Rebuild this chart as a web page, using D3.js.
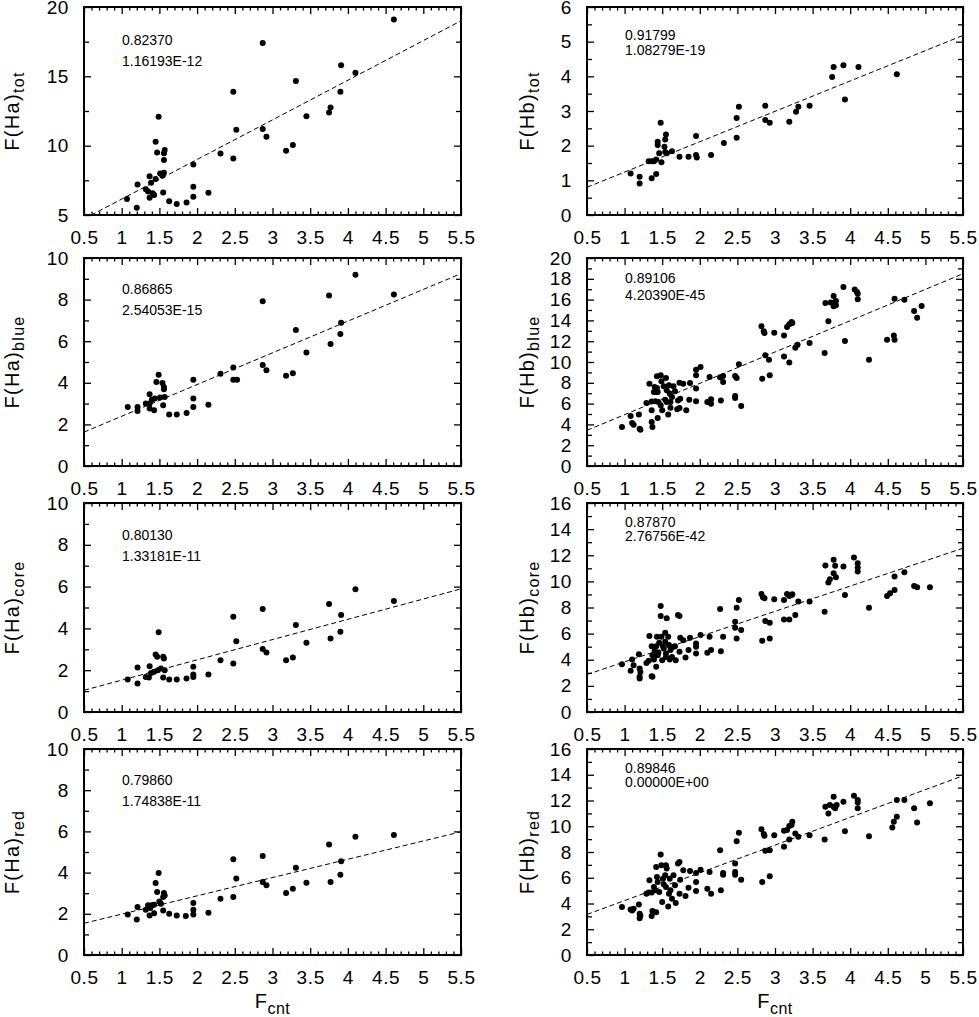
<!DOCTYPE html>
<html>
<head>
<meta charset="utf-8">
<script src="https://cdnjs.cloudflare.com/ajax/libs/d3/7.8.5/d3.min.js"></script>
<style>
  html, body { margin: 0; padding: 0; background: #fff; }
  svg { display: block; font-family: "Liberation Sans", Arial, Helvetica, sans-serif; }
</style>
</head>
<body>
<svg id="chart" width="979" height="1017"></svg>
<script>
// ---------------- DATA ----------------
const xDomain = [0.5, 5.5];
const xTickLabels = ["0.5", "1", "1.5", "2", "2.5", "3", "3.5", "4", "4.5", "5", "5.5"];

const haTot = [[1.07,6.15],[1.21,7.2],[1.20,5.53],[1.37,7.8],[1.35,6.7],[1.32,6.85],[1.37,6.25],[1.39,7.33],[1.41,6.56],[1.43,6.44],[1.45,7.6],[1.45,10.28],[1.47,9.5],[1.49,12.08],[1.51,8.0],[1.54,7.83],[1.56,9.46],[1.57,9.68],[1.56,8.96],[1.56,8.05],[1.55,6.63],[1.63,6.0],[1.73,5.8],[1.86,5.9],[1.95,8.65],[1.95,7.04],[1.95,6.32],[2.15,6.6],[2.31,9.44],[2.48,9.08],[2.48,13.88],[2.52,11.14],[2.87,17.4],[2.87,11.2],[2.92,10.64],[3.18,9.63],[3.27,10.04],[3.31,14.67],[3.45,12.13],[3.75,12.4],[3.77,12.75],[3.90,13.88],[3.91,15.8],[4.10,15.25],[4.61,19.1]];

const hbTot = [[1.08,1.2],[1.20,1.10],[1.20,0.91],[1.32,1.55],[1.36,1.55],[1.39,1.55],[1.36,1.06],[1.42,1.60],[1.42,1.18],[1.44,2.11],[1.44,2.02],[1.46,1.78],[1.48,2.66],[1.49,1.52],[1.53,1.97],[1.54,2.18],[1.55,2.32],[1.54,1.82],[1.56,1.78],[1.63,1.84],[1.73,1.68],[1.85,1.68],[1.95,2.28],[1.95,1.73],[1.96,1.66],[2.15,1.73],[2.32,2.08],[2.49,2.23],[2.49,2.80],[2.52,3.12],[2.87,3.15],[2.87,2.74],[2.93,2.66],[3.19,2.69],[3.28,2.98],[3.31,3.12],[3.46,3.15],[3.76,3.98],[3.78,4.27],[3.91,4.32],[3.93,3.33],[4.11,4.27],[4.62,4.06]];

const haBlue = [[1.08,2.84],[1.21,2.64],[1.21,2.84],[1.32,3.0],[1.37,3.45],[1.37,3.0],[1.37,2.76],[1.40,3.19],[1.43,2.68],[1.44,3.24],[1.46,4.04],[1.49,4.39],[1.51,3.29],[1.54,3.99],[1.56,3.80],[1.56,3.69],[1.55,2.92],[1.57,3.32],[1.63,2.48],[1.73,2.48],[1.86,2.55],[1.95,4.15],[1.95,3.24],[1.95,2.84],[2.15,2.95],[2.31,4.44],[2.48,4.73],[2.48,4.15],[2.53,4.15],[2.87,7.92],[2.87,4.86],[2.92,4.6],[3.18,4.34],[3.27,4.46],[3.31,6.54],[3.45,5.46],[3.75,8.2],[3.77,5.87],[3.90,6.35],[3.91,6.89],[4.10,9.2],[4.61,8.25]];

const hbBlue = [[0.965,3.75],[1.08,4.81],[1.10,4.13],[1.12,3.97],[1.19,4.94],[1.20,3.59],[1.21,3.49],[1.29,6.06],[1.33,7.92],[1.36,6.19],[1.36,5.35],[1.36,4.23],[1.37,3.75],[1.39,7.12],[1.40,7.60],[1.41,6.22],[1.41,7.12],[1.43,8.62],[1.43,7.5],[1.44,7.12],[1.44,4.62],[1.45,6.15],[1.48,5.83],[1.48,8.72],[1.49,8.14],[1.50,5.35],[1.52,7.66],[1.54,6.38],[1.55,8.46],[1.56,7.28],[1.56,6.15],[1.58,4.94],[1.59,7.76],[1.60,6.96],[1.61,6.15],[1.61,5.61],[1.63,6.63],[1.65,7.66],[1.67,7.18],[1.70,5.45],[1.71,6.31],[1.73,8.01],[1.73,5.58],[1.74,6.47],[1.78,7.92],[1.82,5.35],[1.87,7.98],[1.86,6.38],[1.95,9.26],[1.95,8.72],[1.95,7.44],[1.95,6.22],[2.01,9.52],[2.10,6.15],[2.13,8.56],[2.15,5.99],[2.15,6.41],[2.27,8.53],[2.28,6.31],[2.31,8.65],[2.31,8.08],[2.47,8.65],[2.49,8.46],[2.47,6.73],[2.47,6.54],[2.52,9.78],[2.55,5.77],[2.82,13.43],[2.85,12.95],[2.86,12.79],[2.83,8.40],[2.87,10.64],[2.92,10.22],[2.93,8.72],[2.99,12.82],[3.12,12.56],[3.12,10.54],[3.16,13.37],[3.19,13.62],[3.19,9.94],[3.22,13.85],[3.23,13.75],[3.27,11.38],[3.30,11.67],[3.46,11.83],[3.66,10.87],[3.67,15.67],[3.71,13.91],[3.74,15.71],[3.78,16.35],[3.79,15.71],[3.78,15.35],[3.81,15.45],[3.81,15.87],[3.91,17.21],[3.93,12.02],[4.06,16.96],[4.09,16.73],[4.10,16.57],[4.10,16.03],[4.25,10.22],[4.49,12.15],[4.58,12.56],[4.59,12.15],[4.59,16.09],[4.72,15.99],[4.85,14.90],[4.89,14.26],[4.95,15.38]];

const haCore = [[1.08,1.55],[1.21,1.36],[1.21,2.13],[1.32,1.68],[1.36,1.65],[1.37,2.19],[1.39,1.87],[1.43,1.92],[1.45,2.75],[1.47,2.64],[1.48,2.0],[1.49,3.81],[1.52,2.08],[1.55,2.64],[1.56,2.56],[1.57,2.0],[1.55,1.65],[1.63,1.55],[1.73,1.55],[1.86,1.60],[1.95,2.16],[1.95,1.79],[1.95,1.68],[2.15,1.79],[2.31,2.48],[2.48,4.56],[2.48,2.32],[2.52,3.39],[2.87,4.93],[2.87,3.01],[2.92,2.85],[3.18,2.48],[3.27,2.61],[3.31,4.16],[3.45,3.31],[3.75,5.17],[3.77,3.52],[3.90,3.84],[3.91,4.64],[4.10,5.87],[4.61,5.31]];

const hbCore = [[0.965,3.66],[1.08,3.15],[1.10,4.02],[1.12,3.58],[1.19,4.43],[1.20,3.33],[1.20,2.69],[1.21,3.07],[1.20,2.56],[1.29,3.76],[1.32,3.92],[1.33,5.81],[1.36,5.04],[1.36,2.74],[1.37,2.69],[1.37,4.35],[1.39,4.02],[1.40,4.69],[1.42,3.46],[1.42,5.04],[1.43,5.76],[1.44,4.35],[1.45,4.56],[1.46,5.30],[1.48,8.12],[1.48,7.35],[1.49,5.76],[1.50,3.97],[1.51,5.04],[1.52,4.86],[1.54,6.07],[1.54,5.38],[1.55,4.48],[1.55,4.22],[1.56,7.17],[1.58,5.76],[1.59,5.12],[1.60,4.02],[1.61,4.74],[1.63,4.22],[1.65,4.99],[1.67,5.04],[1.68,3.97],[1.71,7.42],[1.73,7.35],[1.73,4.61],[1.74,5.68],[1.78,5.50],[1.81,4.17],[1.85,4.74],[1.87,5.68],[1.95,5.25],[1.95,4.99],[1.95,4.48],[2.01,5.89],[2.10,4.53],[2.13,5.76],[2.15,4.74],[2.27,7.89],[2.28,4.66],[2.31,5.76],[2.47,6.91],[2.47,6.45],[2.49,7.99],[2.49,5.63],[2.52,8.58],[2.55,6.27],[2.82,9.04],[2.84,8.78],[2.86,8.70],[2.83,5.45],[2.87,6.96],[2.93,6.84],[2.93,5.63],[2.99,8.63],[3.12,8.58],[3.12,7.09],[3.16,9.04],[3.19,8.88],[3.19,7.09],[3.22,8.96],[3.23,9.01],[3.27,7.42],[3.31,8.45],[3.46,8.45],[3.66,7.68],[3.67,11.21],[3.71,9.91],[3.73,10.16],[3.78,11.65],[3.78,10.62],[3.80,11.19],[3.81,10.32],[3.91,11.14],[3.93,8.96],[4.05,11.83],[4.10,11.39],[4.10,11.06],[4.10,10.75],[4.25,7.99],[4.49,8.88],[4.53,9.09],[4.59,9.34],[4.59,10.37],[4.72,10.70],[4.85,9.65],[4.89,9.55],[5.06,9.55]];

const haRed = [[1.08,1.97],[1.20,1.72],[1.21,2.33],[1.32,2.20],[1.35,2.41],[1.37,1.92],[1.38,2.28],[1.40,2.41],[1.43,2.03],[1.43,2.44],[1.45,3.50],[1.47,3.06],[1.49,3.98],[1.50,2.60],[1.52,2.49],[1.55,2.16],[1.55,2.81],[1.56,3.01],[1.57,2.89],[1.63,2.0],[1.73,1.92],[1.85,1.89],[1.95,2.52],[1.95,2.20],[1.95,1.97],[2.15,2.05],[2.31,2.73],[2.48,4.65],[2.48,2.81],[2.52,3.71],[2.87,4.81],[2.87,3.54],[2.92,3.38],[3.18,3.01],[3.27,3.22],[3.31,4.23],[3.45,3.51],[3.75,5.37],[3.77,3.54],[3.90,3.90],[3.91,4.55],[4.10,5.74],[4.61,5.82]];

const hbRed = [[0.965,3.72],[1.08,3.54],[1.10,3.46],[1.12,3.59],[1.19,3.93],[1.20,3.20],[1.20,2.86],[1.21,3.07],[1.29,4.76],[1.32,4.86],[1.33,5.80],[1.36,4.86],[1.36,3.02],[1.37,3.41],[1.39,5.28],[1.40,5.02],[1.42,3.33],[1.42,6.84],[1.43,6.06],[1.44,5.67],[1.46,4.89],[1.48,7.80],[1.49,6.97],[1.50,4.11],[1.51,5.93],[1.52,5.49],[1.54,6.19],[1.55,6.97],[1.55,5.28],[1.56,6.71],[1.58,3.77],[1.59,4.76],[1.60,5.93],[1.61,5.02],[1.63,4.37],[1.65,6.19],[1.67,5.41],[1.68,4.03],[1.71,7.10],[1.73,7.23],[1.73,4.76],[1.74,5.85],[1.78,6.58],[1.81,4.58],[1.85,5.23],[1.87,6.53],[1.95,6.37],[1.95,5.67],[1.95,4.97],[2.01,6.63],[2.10,5.15],[2.13,6.45],[2.15,4.76],[2.27,8.14],[2.28,5.02],[2.31,6.37],[2.31,6.24],[2.47,7.10],[2.47,6.45],[2.47,6.24],[2.49,8.84],[2.52,9.49],[2.55,5.85],[2.82,9.76],[2.85,9.39],[2.86,9.26],[2.83,5.67],[2.87,8.09],[2.93,8.14],[2.93,6.11],[2.99,9.31],[3.12,9.65],[3.12,8.40],[3.16,9.70],[3.19,8.97],[3.19,10.02],[3.22,10.09],[3.23,10.35],[3.27,9.44],[3.31,9.18],[3.46,9.31],[3.66,8.97],[3.67,11.52],[3.71,11.0],[3.73,11.65],[3.78,12.30],[3.78,11.52],[3.80,11.39],[3.82,11.65],[3.91,11.91],[3.93,9.62],[4.05,12.36],[4.10,12.04],[4.10,11.39],[4.10,11.84],[4.25,9.23],[4.56,9.91],[4.58,10.35],[4.62,10.74],[4.62,12.04],[4.72,12.04],[4.85,11.39],[4.89,10.30],[5.06,11.78]];

// regression lines: [intercept, slope]
const fitLines = {
  haTot: [3.29, 2.857], hbTot: [0.362, 0.876],
  haBlue: [0.868, 1.524], hbBlue: [1.924, 3.012],
  haCore: [0.555, 0.97], hbCore: [1.903, 1.934],
  haRed: [1.096, 0.888], hbRed: [2.073, 2.154]
};

// correlation coefficient and probability annotations
const annotations = {
  haTot: ["0.82370", "1.16193E-12"], hbTot: ["0.91799", "1.08279E-19"],
  haBlue: ["0.86865", "2.54053E-15"], hbBlue: ["0.89106", "4.20390E-45"],
  haCore: ["0.80130", "1.33181E-11"], hbCore: ["0.87870", "2.76756E-42"],
  haRed: ["0.79860", "1.74838E-11"], hbRed: ["0.89846", "0.00000E+00"]
};

// y axis: [min, max, major step, minor step]
const yAxes = {
  haTot: [5, 20, 5, 2.5], hbTot: [0, 6, 1, 0.5],
  haBlue: [0, 10, 2, 1], hbBlue: [0, 20, 2, 1],
  haCore: [0, 10, 2, 1], hbCore: [0, 16, 2, 1],
  haRed: [0, 10, 2, 1], hbRed: [0, 16, 2, 1]
};

const yLabels = {
  haTot: ["F(Ha)", "tot"], hbTot: ["F(Hb)", "tot"],
  haBlue: ["F(Ha)", "blue"], hbBlue: ["F(Hb)", "blue"],
  haCore: ["F(Ha)", "core"], hbCore: ["F(Hb)", "core"],
  haRed: ["F(Ha)", "red"], hbRed: ["F(Hb)", "red"]
};

const xLabel = ["F", "cnt"];

const pointData = { haTot, hbTot, haBlue, hbBlue, haCore, hbCore, haRed, hbRed };
const grid = [["haTot", "hbTot"], ["haBlue", "hbBlue"], ["haCore", "hbCore"], ["haRed", "hbRed"]];

// ---------------- LAYOUT ----------------
const colX = [[84, 461], [587, 963]];
const rowY = [[7, 215], [258, 466], [503, 712], [749, 955]];
const annotY = [[38, 59], [36, 57], [37, 58], [36, 57]];
const annotYR = [[33, 48], [25, 42], [24, 38], [24, 38]];
const annotX = [122 - 84, 625 - 587];
const yLabelX = [19, 534];

const svg = d3.select("#chart");
const FS = 19;

grid.forEach((row, r) => {
  row.forEach((key, c) => {
    const [x0, x1] = colX[c];
    const [y0, y1] = rowY[r];
    const w = x1 - x0, h = y1 - y0;
    const [ymin, ymax, ymaj, ymin2] = yAxes[key];
    const xs = d3.scaleLinear().domain(xDomain).range([0, w]);
    const ys = d3.scaleLinear().domain([ymin, ymax]).range([h, 0]);
    const g = svg.append("g").attr("transform", `translate(${x0},${y0})`);

    const eps = 1e-9;
    const xMajor = d3.range(xDomain[0], xDomain[1] + eps, 0.5);
    const xMinor = d3.range(xDomain[0], xDomain[1] + eps, 0.1).map(v => Math.round(v * 10) / 10)
      .filter(v => Math.abs(v * 2 - Math.round(v * 2)) > 1e-6);
    const yMajor = d3.range(ymin, ymax + eps, ymaj);
    const yMinor = d3.range(ymin, ymax + eps, ymin2).filter(v => Math.abs((v - ymin) / ymaj - Math.round((v - ymin) / ymaj)) > 1e-6);

    const clipId = "clip-" + key;
    g.append("clipPath").attr("id", clipId).append("rect").attr("width", w).attr("height", h);

    function styleAxis(sel) {
      sel.select(".domain").remove();
      sel.selectAll(".tick line").attr("stroke", "#000").attr("stroke-width", 1.3);
      sel.selectAll("text").attr("font-size", FS).attr("fill", "#000")
        .attr("font-family", "'Liberation Sans', Arial, sans-serif").style("letter-spacing", "0.6px");
    }

    // bottom axis with labels
    g.append("g").attr("transform", `translate(0,${h})`)
      .call(d3.axisBottom(xs).tickValues(xMajor).tickSize(-7).tickSizeOuter(0).tickPadding(15.5)
        .tickFormat((d, i) => xTickLabels[i]))
      .call(styleAxis);
    g.append("g").attr("transform", `translate(0,${h})`)
      .call(d3.axisBottom(xs).tickValues(xMinor).tickSize(-3.5).tickSizeOuter(0).tickFormat(""))
      .call(styleAxis);
    // top axis
    g.append("g")
      .call(d3.axisTop(xs).tickValues(xMajor).tickSize(-7).tickSizeOuter(0).tickFormat(""))
      .call(styleAxis);
    g.append("g")
      .call(d3.axisTop(xs).tickValues(xMinor).tickSize(-3.5).tickSizeOuter(0).tickFormat(""))
      .call(styleAxis);
    // left axis
    g.append("g")
      .call(d3.axisLeft(ys).tickValues(yMajor).tickSize(-7).tickSizeOuter(0).tickPadding(15).tickFormat(d3.format("d")))
      .call(styleAxis);
    g.append("g")
      .call(d3.axisLeft(ys).tickValues(yMinor).tickSize(-5).tickSizeOuter(0).tickFormat(""))
      .call(styleAxis);
    // right axis
    g.append("g").attr("transform", `translate(${w},0)`)
      .call(d3.axisRight(ys).tickValues(yMajor).tickSize(-7).tickSizeOuter(0).tickFormat(""))
      .call(styleAxis);
    g.append("g").attr("transform", `translate(${w},0)`)
      .call(d3.axisRight(ys).tickValues(yMinor).tickSize(-5).tickSizeOuter(0).tickFormat(""))
      .call(styleAxis);

    // regression line
    const [b0, b1] = fitLines[key];
    const line = d3.line().x(d => xs(d)).y(d => ys(b0 + b1 * d));
    g.append("path").datum(xDomain).attr("d", line)
      .attr("clip-path", `url(#${clipId})`)
      .attr("fill", "none").attr("stroke", "#000").attr("stroke-width", 1)
      .attr("stroke-dasharray", "5,3");

    // points
    g.append("g").attr("clip-path", `url(#${clipId})`).selectAll("circle").data(pointData[key]).join("circle")
      .attr("cx", d => xs(d[0])).attr("cy", d => ys(d[1])).attr("r", 3).attr("fill", "#000");

    // frame
    g.append("rect").attr("width", w).attr("height", h)
      .attr("fill", "none").attr("stroke", "#000").attr("stroke-width", 2);

    // annotations
    const ay = c === 0 ? annotY[r] : annotYR[r];
    annotations[key].forEach((t, i) => {
      g.append("text").attr("x", annotX[c]).attr("y", ay[i]).text(t)
        .attr("font-size", 14).attr("fill", "#000");
    });

    // y label
    const lab = yLabels[key];
    const yt = svg.append("text")
      .attr("transform", `translate(${yLabelX[c]},${y0 + h / 2}) rotate(-90)`)
      .attr("text-anchor", "middle").attr("font-size", 20).attr("fill", "#000")
      .style("letter-spacing", "1.3px");
    yt.append("tspan").text(lab[0]);
    yt.append("tspan").text(lab[1]).attr("font-size", 16).attr("dy", 5);

    // x label on bottom row
    if (r === grid.length - 1) {
      const xt = svg.append("text")
        .attr("x", x0 + w / 2).attr("y", 1008)
        .attr("text-anchor", "middle").attr("font-size", 20).attr("fill", "#000")
        .style("letter-spacing", "0.5px");
      xt.append("tspan").text(xLabel[0]);
      xt.append("tspan").text(xLabel[1]).attr("font-size", 16).attr("dy", 6);
    }
  });
});
</script>
</body>
</html>
